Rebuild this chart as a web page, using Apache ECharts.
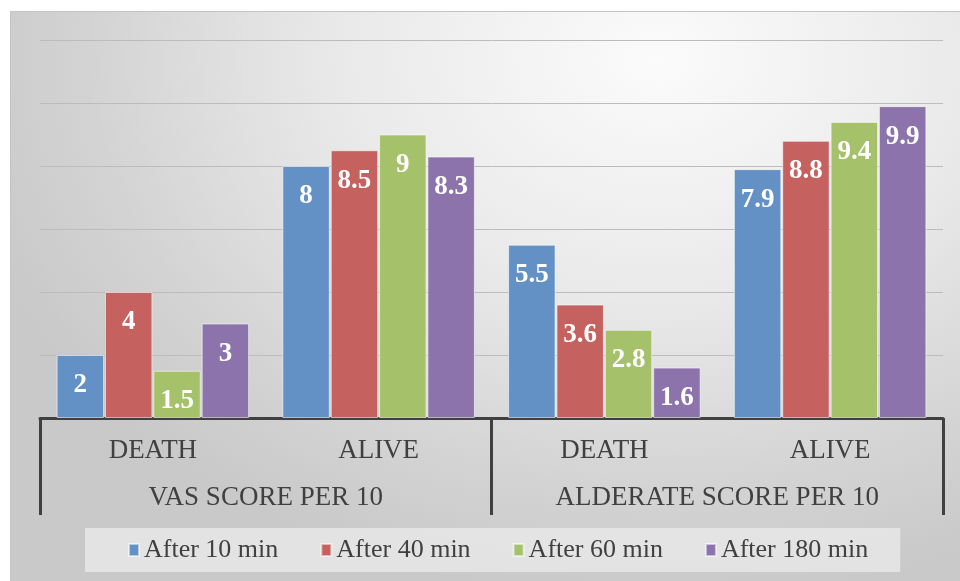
<!DOCTYPE html>
<html>
<head>
<meta charset="utf-8">
<script src="https://cdn.jsdelivr.net/npm/echarts@6/dist/echarts.min.js"></script>
<style>
    html, body { margin: 0; padding: 0; background: #ffffff; }
    .bone { position: relative; width: 960px; height: 581px; overflow: hidden; }
    .backdrop {
        position: absolute; left: 10px; top: 11px; width: 950px; height: 570px;
        border-top: 1px solid #c4c4c4; border-left: 1px solid #c4c4c4;
        background: radial-gradient(ellipse 75% 95% at 68% 8%, #fbfbfb 0%, #e9e9e9 45%, #d3d3d3 80%, #c9c9c9 100%);
    }
    #echarts-main { position: absolute; left: 0; top: 0; width: 960px; height: 581px; }
</style>
</head>
<body>
<div class="bone">
    <div class="backdrop"></div>
    <div id="echarts-main"></div>
</div>
<script>
    // categories
    const sub_labels = ['DEATH', 'ALIVE', 'DEATH', 'ALIVE']
    const group_labels = ['VAS SCORE PER 10', 'ALDERATE SCORE PER 10']
    const series_names = ['After 10 min', 'After 40 min', 'After 60 min', 'After 180 min']

    // values
    const after10 = [2, 8, 5.5, 7.9]
    const after40 = [4, 8.5, 3.6, 8.8]
    const after60 = [1.5, 9, 2.8, 9.4]
    const after180 = [3, 8.3, 1.6, 9.9]

    const series_data = [after10, after40, after60, after180]
    const colors = ['#6391c6', '#c5625f', '#a5c26a', '#8d73ab']

    const myChart = echarts.init(document.getElementById('echarts-main'))

    const serif = '"Liberation Serif", "Times New Roman", serif'

    const bar_series = []
    for (let i = 0; i < series_data.length; i++) {
        bar_series.push({
            name: series_names[i],
            type: 'bar',
            xAxisIndex: 0,
            barWidth: '21%',
            barGap: '2%',
            itemStyle: {
                color: colors[i],
                borderColor: 'rgba(255,255,255,0.55)',
                borderWidth: 1
            },
            label: {
                show: true,
                position: 'insideTop',
                distance: 17,
                color: '#ffffff',
                fontFamily: serif,
                fontWeight: 'bold',
                fontSize: 27
            },
            data: series_data[i]
        })
    }

    const option = {
        backgroundColor: 'transparent',
        animation: false,
        color: colors,
        grid: { left: 40, right: 17, top: 40, bottom: 163 },
        legend: {
            data: series_names,
            left: 85,
            top: 528,
            backgroundColor: 'rgba(235,235,235,0.75)',
            padding: [9, 32, 9, 43],
            itemGap: 42,
            itemWidth: 10,
            itemHeight: 12,
            icon: 'rect',
            textStyle: {
                fontFamily: serif,
                fontSize: 26,
                color: '#404040'
            }
        },
        xAxis: [
            {
                type: 'category',
                data: sub_labels,
                position: 'bottom',
                axisLine: { show: true, lineStyle: { color: '#404040', width: 3 } },
                axisTick: { show: false },
                axisLabel: {
                    margin: 19,
                    fontFamily: serif,
                    fontSize: 27,
                    color: '#404040'
                }
            },
            {
                type: 'category',
                data: group_labels,
                position: 'bottom',
                axisLine: { show: false },
                axisTick: {
                    show: true,
                    length: 97,
                    lineStyle: { color: '#404040', width: 3 }
                },
                axisLabel: {
                    margin: 66,
                    fontFamily: serif,
                    fontSize: 27,
                    color: '#404040'
                }
            }
        ],
        yAxis: {
            type: 'value',
            min: 0,
            max: 12,
            interval: 2,
            axisLabel: { show: false },
            axisLine: { show: false },
            axisTick: { show: false },
            splitLine: { lineStyle: { color: '#bcbcbc', width: 1 } }
        },
        series: bar_series
    }

    myChart.setOption(option)
</script>
</body>
</html>
